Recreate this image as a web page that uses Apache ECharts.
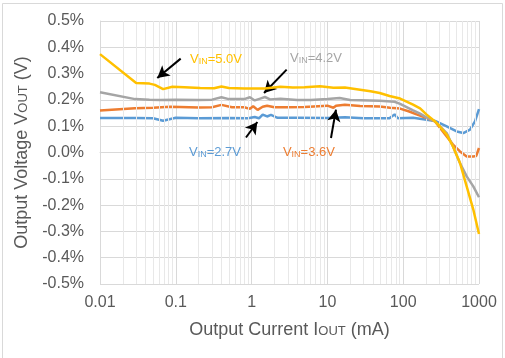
<!DOCTYPE html>
<html><head><meta charset="utf-8">
<script src="https://cdn.jsdelivr.net/npm/echarts@6/dist/echarts.min.js"></script>
<style>html,body{margin:0;padding:0;background:#fff}#c{width:505px;height:358px}</style>
</head><body><div id="c"></div>
<script>
const xTickLabels = ['0.01', '0.1', '1', '10', '100', '1000'];
const minorX = [0.02,0.03,0.04,0.05,0.06,0.07,0.08,0.09,0.2,0.3,0.4,0.5,0.6,0.7,0.8,0.9,2,3,4,5,6,7,8,9,20,30,40,50,60,70,80,90,200,300,400,500,600,700,800,900];

const vin27 = [[0.01,0.131],[0.03,0.131],[0.05,0.13],[0.068,0.121],[0.1,0.132],[0.2,0.13],[0.5,0.131],[0.9,0.13],[1.1,0.135],[1.25,0.13],[1.4,0.144],[1.6,0.137],[1.8,0.143],[2.2,0.132],[4,0.132],[10,0.131],[17,0.134],[30,0.13],[66,0.13],[77,0.145],[85,0.13],[135,0.132],[263,0.12],[375,0.099],[508,0.08],[621,0.074],[761,0.087],[885,0.118],[1000,0.165]];
const vin36 = [[0.01,0.16],[0.029,0.168],[0.05,0.17],[0.084,0.174],[0.2,0.171],[0.3,0.172],[0.4,0.181],[0.55,0.172],[0.8,0.172],[0.95,0.166],[1.05,0.176],[1.2,0.162],[1.4,0.174],[1.6,0.178],[2,0.172],[3,0.172],[5,0.173],[10,0.178],[12,0.17],[13,0.178],[17,0.182],[27,0.177],[37,0.176],[49,0.175],[67,0.17],[91,0.167],[120,0.156],[150,0.145],[204,0.131],[263,0.118],[375,0.061],[454,0.03],[561,0.004],[688,-0.015],[841,-0.015],[920,-0.013],[1000,0.017]];
const vin42 = [[0.01,0.229],[0.029,0.203],[0.045,0.201],[0.062,0.2],[0.1,0.201],[0.2,0.2],[0.3,0.201],[0.4,0.21],[0.5,0.203],[0.8,0.203],[0.95,0.21],[1.1,0.198],[1.3,0.205],[1.5,0.211],[1.75,0.202],[2.4,0.204],[4,0.2],[6,0.2],[10,0.203],[14.5,0.207],[20,0.2],[27,0.199],[49,0.197],[77,0.193],[91,0.185],[135,0.16],[167,0.148],[204,0.133],[263,0.118],[375,0.074],[454,0.023],[561,-0.04],[688,-0.091],[841,-0.129],[1000,-0.17]];
const vin50 = [[0.01,0.374],[0.03,0.264],[0.045,0.262],[0.053,0.257],[0.068,0.241],[0.09,0.25],[0.13,0.248],[0.21,0.245],[0.32,0.244],[0.4,0.251],[0.5,0.245],[0.8,0.243],[1.5,0.243],[2.4,0.25],[3.5,0.247],[5,0.248],[8,0.252],[12,0.246],[17,0.247],[27,0.239],[37,0.233],[49,0.226],[66,0.215],[91,0.205],[135,0.182],[167,0.168],[204,0.144],[263,0.118],[306,0.098],[375,0.068],[454,0.023],[561,-0.04],[688,-0.129],[841,-0.217],[1000,-0.31]];

const seriesNames = ['2.7V', '3.6V', '4.2V', '5.0V'];
const colors = ['#5B9BD5', '#ED7D31', '#A5A5A5', '#FFC000'];
// annotation text anchor [x, y] and arrow [tail, head] in data units
const labelPos = [[0.329,-0.001],[5.71,-0.001],[7.07,0.357],[0.339,0.353]];
const arrows = [[[0.843,0.057],[1.19,0.116]],[[11.15,0.055],[12.97,0.163]],[[2.9,0.315],[1.46,0.226]],[[0.116,0.357],[0.057,0.283]]];

const datasets = [vin27, vin36, vin42, vin50];
const font = '"Liberation Sans", Arial, sans-serif';
const grey = '#595959';

const series = datasets.map((d, i) => ({
  type: 'line', name: seriesNames[i], data: d, showSymbol: false, symbol: 'none',
  lineStyle: { color: colors[i], width: 2.5 }, z: 3 + i, smooth: false,
  markPoint: {
    silent: true, symbol: 'rect', symbolSize: [60, 16], itemStyle: { color: 'rgba(0,0,0,0)' },
    data: [{ coord: labelPos[i], label: {
      show: true, position: 'inside', formatter: '{v|V}{s|IN}{v|=' + seriesNames[i] + '}',
      rich: { v: { fontSize: 13, color: colors[i], fontFamily: font }, s: { fontSize: 9, color: colors[i], fontFamily: font, verticalAlign: 'bottom', padding: [3,0,0,0] } }
    } }]
  },
  markLine: {
    silent: true, symbol: ['none', 'arrow'], symbolSize: [10, 12],
    lineStyle: { color: '#000', width: 2, type: 'solid' }, label: { show: false },
    data: [[{ coord: arrows[i][0] }, { coord: arrows[i][1] }]]
  }
}));

series.unshift({
  type: 'line', name: 'minor', data: [], silent: true, z: 1,
  markLine: {
    silent: true, symbol: ['none', 'none'], label: { show: false },
    lineStyle: { color: '#e8e8e8', width: 1, type: 'solid' },
    data: minorX.map(v => ({ xAxis: v }))
  }
});

const chart = echarts.init(document.getElementById('c'), null, { renderer: 'canvas' });
chart.setOption({
  animation: false,
  backgroundColor: '#fff',
  textStyle: { fontFamily: font },
  graphic: [{ type: 'rect', shape: { x: 2.5, y: 3.5, width: 500, height: 360 }, style: { fill: 'none', stroke: '#d9d9d9', lineWidth: 1 }, silent: true }],
  grid: { left: 100, right: 26, top: 21, bottom: 74 },
  xAxis: {
    type: 'log', logBase: 10, min: 0.01, max: 1000,
    axisLine: { show: true, lineStyle: { color: '#d9d9d9' } },
    axisTick: { show: false },
    splitLine: { show: true, lineStyle: { color: '#d9d9d9' } },
    axisLabel: { color: grey, fontSize: 16, margin: 11, fontFamily: font,
      formatter: v => { const k = Math.round(Math.log10(v)) + 2; return xTickLabels[k] !== undefined ? xTickLabels[k] : ''; } },
    name: '{a|Output Current I}{b|OUT}{a| (mA)}', nameLocation: 'middle', nameGap: 37,
    nameTextStyle: { rich: { a: { fontSize: 18, color: grey, fontFamily: font }, b: { fontSize: 13, color: grey, fontFamily: font, padding: [3,0,0,0] } } }
  },
  yAxis: {
    type: 'value', min: -0.5, max: 0.5, interval: 0.1,
    axisLine: { show: true, lineStyle: { color: '#d9d9d9' } },
    axisTick: { show: false },
    splitLine: { show: true, lineStyle: { color: '#d9d9d9' } },
    axisLabel: { color: grey, fontSize: 16, margin: 16, fontFamily: font,
      formatter: v => (Math.abs(v) < 1e-9 ? 0 : v).toFixed(1) + '%' },
    name: '{a|Output Voltage V}{b|OUT}{a| (V)}', nameLocation: 'middle', nameGap: 64, nameRotate: 90,
    nameTextStyle: { rich: { a: { fontSize: 18, color: grey, fontFamily: font }, b: { fontSize: 13, color: grey, fontFamily: font, padding: [3,0,0,0] } } }
  },
  series: series
});
</script></body></html>
